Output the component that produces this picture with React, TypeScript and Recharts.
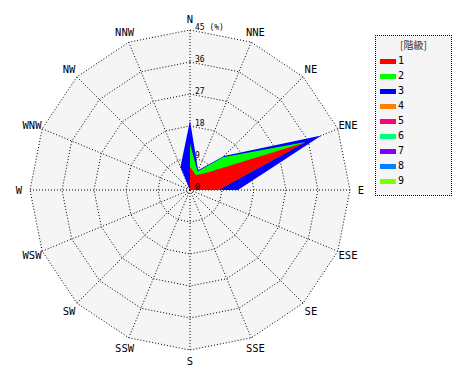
import React from "react";
import { RadarChart, Radar, PolarGrid, PolarAngleAxis, PolarRadiusAxis, Legend } from "recharts";

// 16方位
const directions = ["N", "NNE", "NE", "ENE", "E", "ESE", "SE", "SSE", "S", "SSW", "SW", "WSW", "W", "WNW", "NW", "NNW"];

// 階級ごとの出現率 (%)
const level1 = [6.5, 4.5, 7, 35, 8, 0, 0, 0, 0, 0, 0, 0, 0, 0, 0, 0];
const level2 = [6.5, 1.1, 6, 0.2, 0, 0, 0, 0, 0, 0, 0, 0, 0, 0, 0, 0];
const level3 = [6.5, 0.4, 0.5, 4.8, 5.5, 0, 0, 0, 0, 0, 0, 0, 0, 0, 0, 7];

const radiusTicks = [0, 9, 18, 27, 36, 45];
const levelNames = ["1", "2", "3", "4", "5", "6", "7", "8", "9"];
const levelColors = ["#ff0000", "#00ff00", "#0000ff", "#ff8000", "#ff0080", "#00ff80", "#8000ff", "#0080ff", "#80ff00"];

// 積み上げ値
const data = directions.map((dir, i) => ({
  dir,
  c1: level1[i],
  c2: level1[i] + level2[i],
  c3: level1[i] + level2[i] + level3[i],
}));

const FONT = "'DejaVu Sans Mono', monospace";

const AngleTick = (props: any) => (
  <text
    x={props.x}
    y={props.y}
    textAnchor="middle"
    dominantBaseline="central"
    fontSize={10.5}
    fontFamily={FONT}
    fill="#000"
  >
    {props.payload.value}
  </text>
);

const RadiusTick = (props: any) => (
  <text x={props.x + 5} y={props.y} fontSize={8} fontFamily={FONT} fill="#000">
    {props.payload.value === 45 ? "45 (%)" : props.payload.value}
  </text>
);

const LegendBox = () => (
  <div
    style={{
      position: "relative",
      width: 77,
      height: 161,
      boxSizing: "border-box",
      border: "1px dotted #000",
      background: "#f5f5f5",
      fontFamily: FONT,
      fontSize: 10,
      color: "#000",
    }}
  >
    <div
      style={{
        position: "absolute",
        top: 3,
        left: 0,
        width: "100%",
        textAlign: "center",
        fontFamily: "'Noto Sans CJK JP', sans-serif",
        color: "#333",
        lineHeight: "12px",
      }}
    >
      [階級]
    </div>
    {levelNames.map((name, i) => (
      <div key={name} style={{ position: "absolute", left: 4, top: 19 + i * 15, height: 12, display: "flex", alignItems: "center" }}>
        <span style={{ display: "inline-block", width: 16, height: 5, background: levelColors[i], marginRight: 2 }} />
        <span style={{ lineHeight: "12px" }}>{name}</span>
      </div>
    ))}
  </div>
);

export default function App() {
  return (
    <RadarChart
      width={462}
      height={372}
      data={data}
      cx={182}
      cy={182}
      outerRadius={160}
      margin={{ top: 0, right: 0, left: 0, bottom: 0 }}
    >
      {/* 背景 */}
      <PolarGrid gridType="polygon" stroke="none" fill="#f5f5f5" fillOpacity={1} radialLines={false} />

      <PolarRadiusAxis
        angle={90}
        type="number"
        domain={[0, 45]}
        ticks={radiusTicks}
        axisLine={false}
        tickLine={false}
        tick={RadiusTick}
      />
      <PolarAngleAxis dataKey="dir" tickLine={false} axisLine={false} tickSize={11} tick={AngleTick} />

      <Radar dataKey="c3" name="3" fill={levelColors[2]} fillOpacity={1} stroke="none" dot={false} isAnimationActive={false} />
      <Radar dataKey="c2" name="2" fill={levelColors[1]} fillOpacity={1} stroke="none" dot={false} isAnimationActive={false} />
      <Radar dataKey="c1" name="1" fill={levelColors[0]} fillOpacity={1} stroke="none" dot={false} isAnimationActive={false} />

      {/* 目盛り線 (点線) */}
      <PolarGrid gridType="polygon" stroke="#000" strokeDasharray="1 2" />

      <Legend
        layout="vertical"
        align="right"
        verticalAlign="top"
        content={LegendBox}
        wrapperStyle={{ left: 367, top: 27, width: 77 }}
      />
    </RadarChart>
  );
}
